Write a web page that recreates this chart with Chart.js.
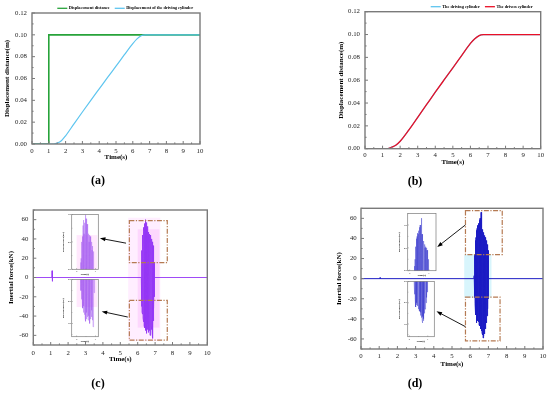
<!DOCTYPE html>
<html>
<head>
<title>Displacement and inertial force</title>
<script src="https://cdn.jsdelivr.net/npm/chart.js"></script>
<style>
body { margin: 0; width: 550px; height: 394px; background: #fff; position: relative; overflow: hidden; }
canvas { position: absolute; }
.cap { position: absolute; font: bold 12px "Liberation Serif"; transform: translate(-50%, -50%); color: #000; }
</style>
</head>
<body>
<canvas id="chartA" style="left:0;top:0" width="275" height="170"></canvas>
<canvas id="chartB" style="left:275px;top:0" width="275" height="170"></canvas>
<canvas id="chartC" style="left:0;top:190px" width="275" height="180"></canvas>
<canvas id="chartD" style="left:275px;top:190px" width="275" height="180"></canvas>
<canvas id="insetCUp" style="left:60px;top:212px" width="40" height="64"></canvas>
<canvas id="insetCLo" style="left:60px;top:277px" width="40" height="66"></canvas>
<canvas id="insetDUp" style="left:396px;top:211px" width="42" height="66"></canvas>
<canvas id="insetDLo" style="left:396px;top:279px" width="40" height="64"></canvas>
<div class="cap" style="left:98px;top:180px">(a)</div>
<div class="cap" style="left:415px;top:181px">(b)</div>
<div class="cap" style="left:98px;top:383px">(c)</div>
<div class="cap" style="left:415px;top:383px">(d)</div>

<script>
// ---- data ----
const timeTicks = [0, 1, 2, 3, 4, 5, 6, 7, 8, 9, 10];
const dispTicks = [0, 0.02, 0.04, 0.06, 0.08, 0.10, 0.12];
const forceTicks = [-60, -40, -20, 0, 20, 40, 60];

// (a)
const stepTime = [0, 1, 1, 10];
const stepDisp = [0, 0, 0.1, 0.1];
const timeA = [0, 0.5, 1, 1.3, 1.5, 1.75, 2, 2.5, 3, 3.5, 4, 4.5, 5, 5.5, 6, 6.25, 6.5, 6.75, 7, 8, 9, 10];
const drivingA = [0, 0, 0, 0, 0.0008, 0.003, 0.0075, 0.0185, 0.0293, 0.04, 0.0505, 0.061, 0.0713, 0.0818, 0.092, 0.0963, 0.0991, 0.0999, 0.1, 0.1, 0.1, 0.1];

// (b)
const timeB = [0, 0.5, 1, 1.3, 1.5, 1.75, 2, 2.5, 3, 3.5, 4, 4.5, 5, 5.5, 6, 6.25, 6.5, 6.75, 7, 8, 9, 10];
const drivingB = [0, 0, 0, 0, 0.0012, 0.003, 0.0065, 0.0165, 0.0275, 0.0385, 0.0495, 0.0602, 0.0708, 0.0815, 0.0922, 0.0963, 0.0991, 0.0999, 0.1, 0.1, 0.1, 0.1];
const drivenB = [0, 0, 0, 0, 0.0012, 0.003, 0.0065, 0.0165, 0.0275, 0.0385, 0.0495, 0.0602, 0.0708, 0.0815, 0.0922, 0.0963, 0.0991, 0.0999, 0.1, 0.1, 0.1, 0.1];

// (c) inertial force, driving cylinder
const timeC = [0, 1.07, 1.08, 1.09, 1.1, 1.11, 6.21,
  6.22, 6.23, 6.24, 6.25, 6.26, 6.27, 6.28, 6.29, 6.30, 6.31,
  6.32, 6.33, 6.34, 6.35, 6.36, 6.37, 6.38, 6.39, 6.40, 6.41,
  6.42, 6.43, 6.44, 6.45, 6.46, 6.47, 6.48, 6.49, 6.50, 6.51,
  6.52, 6.53, 6.54, 6.55, 6.56, 6.57, 6.58, 6.59, 6.60, 6.61,
  6.62, 6.63, 6.64, 6.65, 6.66, 6.67, 6.68, 6.69, 6.70, 6.71,
  6.72, 6.73, 6.74, 6.75, 6.76, 6.77, 6.78, 6.79, 6.80, 6.81,
  6.82, 6.83, 6.84, 6.85, 6.86, 6.87, 6.88, 6.89, 6.90, 6.91,
  6.92, 6.93, 6.94, 6.95, 6.96, 6.97, 6.98, 10];
const forceC = [0, 0, 7, -4, 3, 0, 0,
  25, -30, 28, -36, 32, -38, 40, -34, 44, -42,
  38, -46, 52, -40, 48, -50, 56, -44, 46, -52,
  50, -47, 54, -55, 60, -49, 52, -58, 57, -52,
  55, -56, 48, -50, 53, -54, 44, -48, 47, -57,
  42, -51, 46, -53, 40, -49, 45, -55, 41, -60,
  44, -52, 38, -56, 43, -50, 36, -54, 40, -48,
  34, -57, 37, -52, 30, -63, 33, -45, 28, -40,
  22, -32, 16, -20, 8, -6, 0, 0];

// (d) inertial force, driven cylinder
const timeD = [0, 1.04, 1.05, 1.06, 6.2,
  6.22, 6.23, 6.24, 6.25, 6.26, 6.27, 6.28, 6.29, 6.30, 6.31,
  6.32, 6.33, 6.34, 6.35, 6.36, 6.37, 6.38, 6.39, 6.40, 6.41,
  6.42, 6.43, 6.44, 6.45, 6.46, 6.47, 6.48, 6.49, 6.50, 6.51,
  6.52, 6.53, 6.54, 6.55, 6.56, 6.57, 6.58, 6.59, 6.60, 6.61,
  6.62, 6.63, 6.64, 6.65, 6.66, 6.67, 6.68, 6.69, 6.70, 6.71,
  6.72, 6.73, 6.74, 6.75, 6.76, 6.77, 6.78, 6.79, 6.80, 6.81,
  6.82, 6.83, 6.84, 6.85, 6.86, 6.87, 6.88, 6.89, 6.90, 6.91,
  6.92, 6.93, 6.94, 6.95, 6.96, 6.97, 6.98, 6.99, 7.00, 7.01, 10];
const forceD = [0, 0, 1, 0, 0,
  3, -2, 20, -19, 24, -25, 30, -32, 38, -36,
  41, -40, 45, -44, 48, -38, 50, -42, 53, -40,
  47, -39, 52, -43, 55, -41, 50, -46, 54, -44,
  58, -47, 60, -45, 56, -48, 56, -50, 66, -52,
  50, -49, 52, -54, 47, -51, 49, -56, 45, -59,
  44, -53, 46, -57, 42, -52, 43, -55, 40, -49,
  41, -50, 39, -46, 40, -42, 36, -44, 38, -40,
  32, -37, 34, -35, 30, -30, 28, -20, 12, 0, 0];

function pts(xs, ys) { return xs.map((x, i) => ({ x: x, y: ys[i] })); }

// ---- plugins ----
function minorOf(majors, min, max) {
  const out = [];
  const step = majors[1] - majors[0];
  for (let v = majors[0] - step / 2; v <= max + 1e-9; v += step) {
    if (v >= min - 1e-9) out.push(v);
  }
  return out;
}

const frameTicks = {
  id: 'frameTicks',
  beforeDraw(chart, args, o) {
    if (!o.white) return;
    const a = chart.chartArea, ctx = chart.ctx;
    ctx.save();
    ctx.fillStyle = '#fff';
    ctx.fillRect(a.left, a.top, a.right - a.left, a.bottom - a.top);
    ctx.restore();
  },
  afterDatasetsDraw(chart, args, o) {
    const { ctx, chartArea: a, scales: { x, y } } = chart;
    const major = o.major, minor = o.minor;
    ctx.save();
    ctx.strokeStyle = '#7a7a7a';
    ctx.lineWidth = o.tickWidth;
    ctx.beginPath();
    const xm = x.ticks.map(t => t.value), ym = y.ticks.map(t => t.value);
    xm.forEach(v => { const p = x.getPixelForValue(v); ctx.moveTo(p, a.bottom); ctx.lineTo(p, a.bottom - major); });
    minorOf(xm, x.min, x.max).forEach(v => { const p = x.getPixelForValue(v); ctx.moveTo(p, a.bottom); ctx.lineTo(p, a.bottom - minor); });
    ym.forEach(v => { const p = y.getPixelForValue(v); ctx.moveTo(a.left, p); ctx.lineTo(a.left + major, p); });
    minorOf(ym, y.min, y.max).forEach(v => { const p = y.getPixelForValue(v); ctx.moveTo(a.left, p); ctx.lineTo(a.left + minor, p); });
    ctx.stroke();
    ctx.lineWidth = o.frameWidth;
    ctx.strokeRect(a.left, a.top, a.right - a.left, a.bottom - a.top);
    ctx.restore();
  }
};

const lineLegend = {
  id: 'lineLegend',
  afterDraw(chart, args, o) {
    if (!o.items) return;
    const ctx = chart.ctx;
    ctx.save();
    ctx.font = 'bold ' + o.size + 'px "Liberation Serif"';
    ctx.textBaseline = 'middle';
    let x = o.x;
    o.items.forEach(it => {
      ctx.strokeStyle = it.color;
      ctx.lineWidth = 1.3;
      ctx.beginPath();
      ctx.moveTo(x, o.y);
      ctx.lineTo(x + 10, o.y);
      ctx.stroke();
      ctx.fillStyle = '#000';
      ctx.fillText(it.text, x + 11.5, o.y);
      x += 11.5 + ctx.measureText(it.text).width + 5;
    });
    ctx.restore();
  }
};

const zoomMarks = {
  id: 'zoomMarks',
  beforeDatasetsDraw(chart, args, o) {
    if (!o.shades) return;
    const { ctx, scales: { x, y } } = chart;
    ctx.save();
    o.shades.forEach(s => {
      const x0 = x.getPixelForValue(s.t0), x1 = x.getPixelForValue(s.t1);
      const y0 = y.getPixelForValue(s.f1), y1 = y.getPixelForValue(s.f0);
      ctx.fillStyle = s.color;
      ctx.fillRect(x0, y0, x1 - x0, y1 - y0);
    });
    ctx.restore();
  },
  afterDatasetsDraw(chart, args, o) {
    const { ctx, scales: { x, y } } = chart;
    ctx.save();
    (o.boxes || []).forEach(b => {
      const x0 = x.getPixelForValue(b.t0), x1 = x.getPixelForValue(b.t1);
      const y0 = y.getPixelForValue(b.f1), y1 = y.getPixelForValue(b.f0);
      ctx.strokeStyle = '#b57a52';
      ctx.lineWidth = 1.2;
      ctx.setLineDash([5, 1.5, 1.2, 1.5]);
      ctx.strokeRect(x0, y0, x1 - x0, y1 - y0);
    });
    ctx.setLineDash([]);
    (o.arrows || []).forEach(ar => {
      const x0 = x.getPixelForValue(ar.from[0]), y0 = y.getPixelForValue(ar.from[1]);
      const x1 = x.getPixelForValue(ar.to[0]), y1 = y.getPixelForValue(ar.to[1]);
      const ang = Math.atan2(y1 - y0, x1 - x0);
      ctx.strokeStyle = '#000';
      ctx.fillStyle = '#000';
      ctx.lineWidth = 0.9;
      ctx.beginPath();
      ctx.moveTo(x0, y0);
      ctx.lineTo(x1 - 4 * Math.cos(ang), y1 - 4 * Math.sin(ang));
      ctx.stroke();
      ctx.beginPath();
      ctx.moveTo(x1, y1);
      ctx.lineTo(x1 - 5.5 * Math.cos(ang) + 2 * Math.sin(ang), y1 - 5.5 * Math.sin(ang) - 2 * Math.cos(ang));
      ctx.lineTo(x1 - 5.5 * Math.cos(ang) - 2 * Math.sin(ang), y1 - 5.5 * Math.sin(ang) + 2 * Math.cos(ang));
      ctx.closePath();
      ctx.fill();
    });
    ctx.restore();
  }
};

Chart.register(frameTicks, lineLegend, zoomMarks);
Chart.defaults.font.family = '"Liberation Serif"';
Chart.defaults.animation = false;

function axes(o) {
  return {
    x: {
      type: 'linear', min: o.xMin, max: o.xMax,
      afterBuildTicks(s) { s.ticks = o.xTicks.map(v => ({ value: v })); },
      ticks: { padding: o.xPad, color: '#222', font: { size: o.fs }, maxRotation: 0, autoSkip: false },
      grid: { display: false, drawTicks: false },
      border: { display: false },
      title: { display: true, text: 'Time(s)', color: '#000', font: { size: o.ts, weight: 'bold' }, padding: { top: 0, bottom: o.xTitlePad } },
      afterFit(s) { s.height = o.xH; }
    },
    y: {
      type: 'linear', min: o.yMin, max: o.yMax,
      afterBuildTicks(s) { s.ticks = o.yTicks.map(v => ({ value: v })); },
      ticks: { padding: o.yPad, color: '#222', font: { size: o.fs }, autoSkip: false, callback: o.fmt || (v => v) },
      grid: { display: false, drawTicks: false },
      border: { display: false },
      title: { display: true, text: o.yTitle, color: '#000', font: { size: o.ts, weight: 'bold' }, padding: { top: o.yTitlePad, bottom: 0 } },
      afterFit(s) { s.width = o.yW; }
    }
  };
}

// the first dataset in the list is drawn on top
function makeChart(id, datasets, scaleOpts, padding, plugins) {
  return new Chart(document.getElementById(id), {
    type: 'line',
    data: { datasets: datasets },
    options: {
      responsive: false,
      events: [],
      layout: { padding: padding },
      elements: { point: { radius: 0 }, line: { tension: 0 } },
      scales: axes(scaleOpts),
      plugins: Object.assign({ legend: { display: false }, tooltip: { enabled: false } }, plugins)
    }
  });
}

const mainTicks = { major: 3, minor: 1.6, tickWidth: 1, frameWidth: 1.4 };
const insetTicks = { major: 1.2, minor: 0.7, tickWidth: 0.5, frameWidth: 0.7, white: true };
const fix2 = v => v.toFixed(2);

// (a)
makeChart('chartA', [
  { data: pts(timeA, drivingA), borderColor: '#5ec5ef', borderWidth: 1.2, cubicInterpolationMode: 'monotone' },
  { data: pts(stepTime, stepDisp), borderColor: '#27a33a', borderWidth: 1.6 }
], { xMin: 0, xMax: 10, xTicks: timeTicks, yMin: 0, yMax: 0.12, yTicks: dispTicks, fmt: fix2,
     yTitle: 'Displacement distance(m)', fs: 6.8, ts: 7, xPad: 2.8, yPad: 5, xTitlePad: 9, yTitlePad: 3, xH: 26, yW: 32 },
  { left: 0, top: 13, right: 75, bottom: 0 },
  { frameTicks: mainTicks,
    lineLegend: { x: 57.3, y: 8.3, size: 4.3, items: [
      { text: 'Displacement distance', color: '#27a33a' },
      { text: 'Displacement of the driving cylinder', color: '#5ec5ef' }] } });

// (b)
makeChart('chartB', [
  { data: pts(timeB, drivenB), borderColor: '#ea0f26', borderWidth: 1.3, cubicInterpolationMode: 'monotone' },
  { data: pts(timeB, drivingB), borderColor: '#5ec5ef', borderWidth: 1.2, cubicInterpolationMode: 'monotone' }
], { xMin: 0, xMax: 10, xTicks: timeTicks, yMin: 0, yMax: 0.12, yTicks: dispTicks, fmt: fix2,
     yTitle: 'Displacement distance(m)', fs: 6.8, ts: 7, xPad: 2, yPad: 5, xTitlePad: 3.5, yTitlePad: 3, xH: 21.3, yW: 31.5 },
  { left: 58.5, top: 11.7, right: 9.3, bottom: 0 },
  { frameTicks: mainTicks,
    lineLegend: { x: 155.7, y: 6.7, size: 4.3, items: [
      { text: 'The driving cylinder', color: '#5ec5ef' },
      { text: 'The driven cylinder', color: '#ea0f26' }] } });

// (c)
makeChart('chartC', [
  { data: pts(timeC, forceC), borderColor: 'rgba(150,55,245,0.9)', borderWidth: 1 }
], { xMin: 0, xMax: 10, xTicks: timeTicks, yMin: -70, yMax: 70, yTicks: forceTicks,
     yTitle: 'Inertial force(kN)', fs: 6.8, ts: 7, xPad: 4.2, yPad: 5, xTitlePad: 6.5, yTitlePad: 3, xH: 25, yW: 29.5 },
  { left: 3.8, top: 20, right: 67.7, bottom: 0 },
  { frameTicks: mainTicks,
    zoomMarks: {
      shades: [{ t0: 5.45, t1: 7.3, f0: -66, f1: 62, color: 'rgba(255,205,255,0.35)' },
               { t0: 6.0, t1: 7.25, f0: -52, f1: 50, color: 'rgba(250,175,250,0.35)' }],
      boxes: [{ t0: 5.52, t1: 7.7, f0: 15.5, f1: 59 }, { t0: 5.52, t1: 7.7, f0: -65, f1: -23.8 }],
      arrows: [{ from: [5.33, 35.6], to: [3.83, 40.7] }, { from: [5.43, -41], to: [3.93, -35.2] }] } });

// (d)
makeChart('chartD', [
  { data: pts(timeD, forceD), borderColor: '#1c1cc4', borderWidth: 1 }
], { xMin: 0, xMax: 10, xTicks: timeTicks, yMin: -70, yMax: 70, yTicks: forceTicks,
     yTitle: 'Inertial force(kN)', fs: 6.8, ts: 7, xPad: 3.6, yPad: 4.3, xTitlePad: 2.1, yTitlePad: 3, xH: 21, yW: 29.2 },
  { left: 56.8, top: 18.3, right: 6.7, bottom: 0 },
  { frameTicks: mainTicks,
    zoomMarks: {
      shades: [{ t0: 5.67, t1: 7.17, f0: -19, f1: 24, color: 'rgba(190,238,250,0.6)' }],
      boxes: [{ t0: 5.74, t1: 7.76, f0: 24, f1: 67.6 }, { t0: 5.74, t1: 7.64, f0: -62, f1: -18.3 }],
      arrows: [{ from: [5.74, 53.5], to: [4.19, 31.5] }, { from: [5.74, -47.8], to: [4.15, -32.5] }] } });

// insets
const insetBase = { fs: 2.6, ts: 2.6, xPad: 0.6, yPad: 1, xTitlePad: 0.3, yTitlePad: 1.7, yW: 11.7, yTitle: 'Inertial force(kN)' };
makeChart('insetCUp', [{ data: pts(timeC, forceC), borderColor: 'rgba(150,70,240,0.55)', borderWidth: 0.6 }],
  Object.assign({}, insetBase, { xMin: 5.74, xMax: 7.15, xTicks: [6, 7], yMin: 20, yMax: 60, yTicks: [20, 40, 60], xH: 6.7 }),
  { left: 0, top: 1.3, right: 1.7, bottom: 0 },
  { frameTicks: insetTicks, zoomMarks: { shades: [{ t0: 6.0, t1: 7.1, f0: 20, f1: 45, color: 'rgba(255,190,250,0.35)' }] } });
makeChart('insetCLo', [{ data: pts(timeC, forceC), borderColor: 'rgba(150,70,240,0.55)', borderWidth: 0.6 }],
  Object.assign({}, insetBase, { xMin: 5.74, xMax: 7.15, xTicks: [6, 7], yMin: -72, yMax: -20, yTicks: [-60, -40, -20], xH: 6.3 }),
  { left: 0, top: 1.3, right: 1.7, bottom: 0 },
  { frameTicks: insetTicks, zoomMarks: { shades: [{ t0: 6.0, t1: 7.1, f0: -45, f1: -20, color: 'rgba(255,190,250,0.35)' }] } });
makeChart('insetDUp', [{ data: pts(timeD, forceD), borderColor: 'rgba(30,30,200,0.6)', borderWidth: 0.6 }],
  Object.assign({}, insetBase, { xMin: 5.9, xMax: 7.36, xTicks: [6, 7], yMin: 20, yMax: 70, yTicks: [20, 40, 60], xH: 6.3 }),
  { left: 0, top: 1.3, right: 2, bottom: 0 },
  { frameTicks: insetTicks });
makeChart('insetDLo', [{ data: pts(timeD, forceD), borderColor: 'rgba(30,30,200,0.6)', borderWidth: 0.6 }],
  Object.assign({}, insetBase, { xMin: 5.9, xMax: 7.36, xTicks: [6, 7], yMin: -72, yMax: -20, yTicks: [-60, -40, -20], xH: 6.3 }),
  { left: 0, top: 1.7, right: 1.7, bottom: 0 },
  { frameTicks: insetTicks });
</script>
</body>
</html>
